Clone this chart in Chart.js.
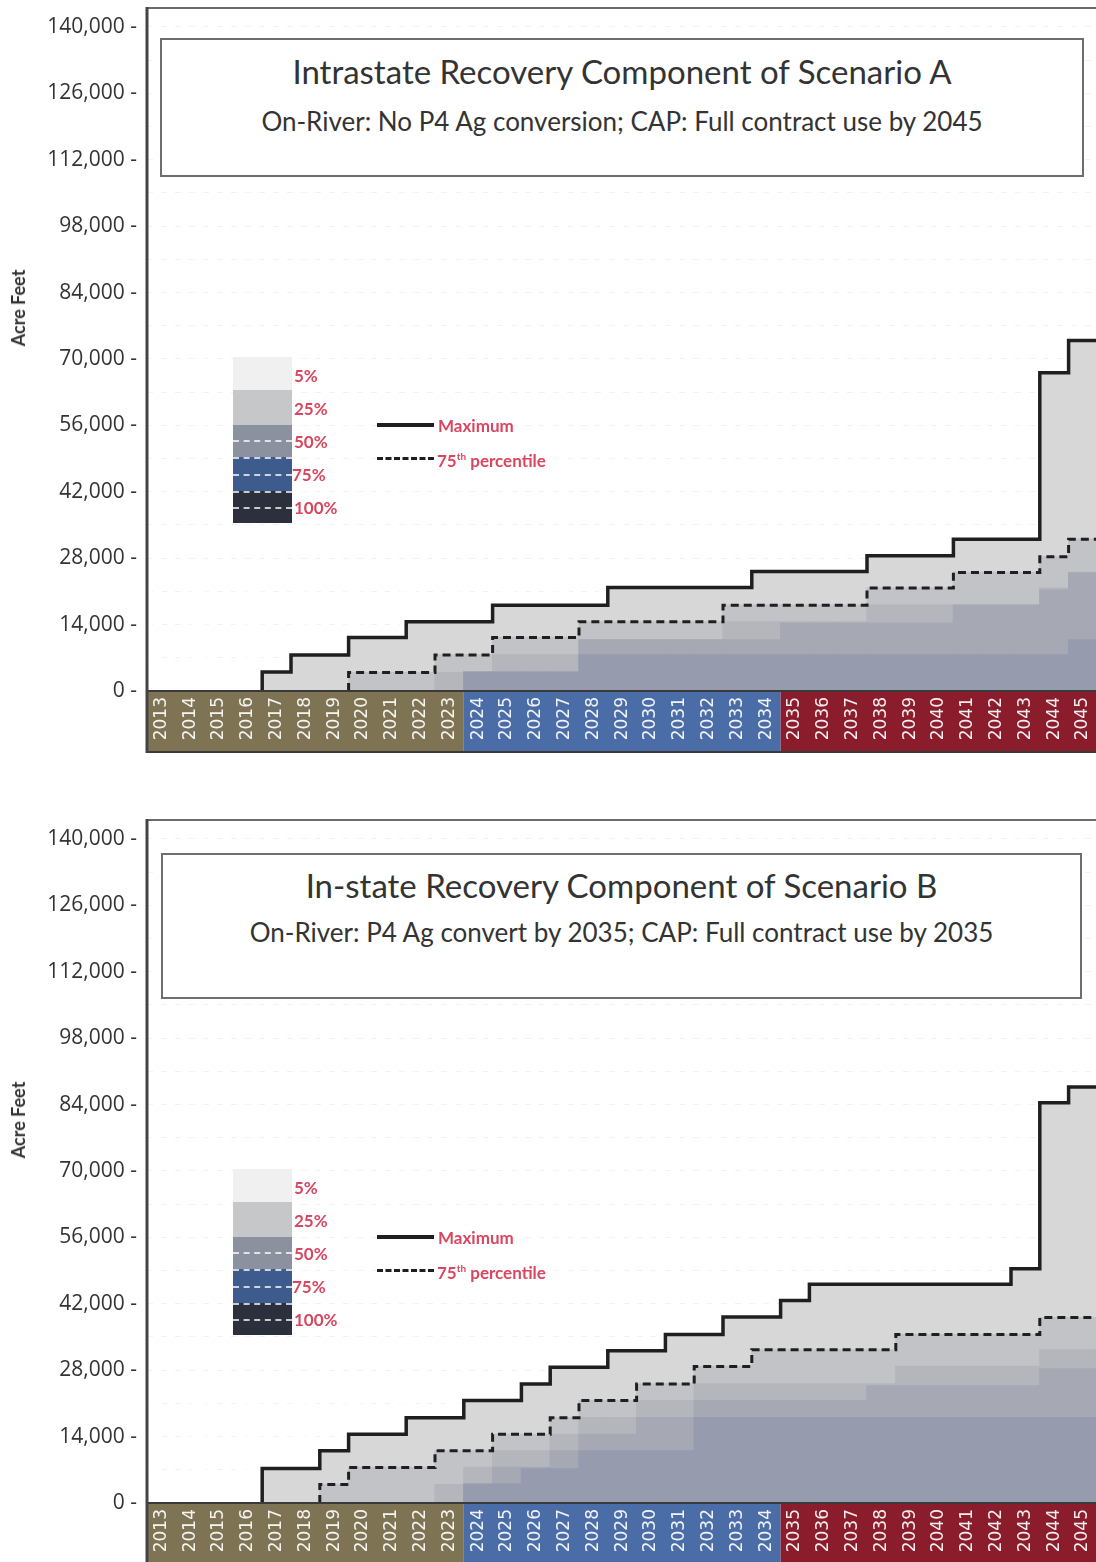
<!DOCTYPE html>
<html>
<head>
<meta charset="utf-8">
<script src="https://cdn.jsdelivr.net/npm/chart.js@4.4.1/dist/chart.umd.min.js"></script>
<style>
  html, body { margin: 0; padding: 0; background: #fff; overflow: hidden; width: 1096px; height: 1562px; }
  .panel { position: absolute; left: 0; width: 1100px; height: 760px; }
  .panel canvas { position: absolute; left: 0; top: 0; }
  .titlebox { position: absolute; box-sizing: border-box; border: 2px solid #6e6e6e; background: #fff;
              font-family: Lato, "Open Sans", sans-serif; color: #333; text-align: center; }
  .titlebox .t1, .titlebox .t2 { position: absolute; left: 0; right: 0; white-space: nowrap; line-height: 1; }
  .yname { position: absolute; font-family: Lato, sans-serif; font-weight: bold; font-size: 18px; color: #333;
           transform: translate(-50%, -50%) rotate(-90deg); white-space: nowrap; }
  .swatch { position: absolute; left: 233px; width: 59px; }
  .swatch div { position: absolute; left: 0; width: 59px; }
  .swatch .dash { height: 0; border-top: 2px dashed rgba(255,255,255,0.75); }
  .lg { position: absolute; font-family: Lato, sans-serif; font-weight: bold; font-size: 17px; color: #d8465f;
        transform: translateY(-50%); white-space: nowrap; line-height: 1; }
  .lg sup { font-size: 10px; vertical-align: 7px; }
  .lline { position: absolute; left: 377px; width: 57px; }
</style>
</head>
<body>

<div class="panel" id="panelA" style="top:0px">
  <canvas id="chartA" width="1100" height="760"></canvas>
</div>
<div class="panel" id="panelB" style="top:812px">
  <canvas id="chartB" width="1100" height="760"></canvas>
</div>

<script>
// ---- categories and axis ticks ----
const years = ['2013','2014','2015','2016','2017','2018','2019','2020','2021','2022','2023',
               '2024','2025','2026','2027','2028','2029','2030','2031','2032','2033','2034',
               '2035','2036','2037','2038','2039','2040','2041','2042','2043','2044','2045'];
const yTickValues = [0,7000,14000,21000,28000,35000,42000,49000,56000,63000,70000,
                     77000,84000,91000,98000,105000,112000,119000,126000,133000,140000];
const yLabelEvery = 14000;
const yAxisMax = 144000;
const eraStarts = ['2013','2024','2035'];
const eraColors = ['#7e7454','#4b6da7','#8a1c2b'];

// ---- Scenario A (acre-feet) ----
const titleA = 'Intrastate Recovery Component of Scenario A';
const subtitleA = 'On-River: No P4 Ag conversion; CAP: Full contract use by 2045';
const maxA = [0,0,0,0,4000,7600,7600,11300,11300,14600,14600,14600,18100,18100,18100,18100,
              21800,21800,21800,21800,21800,25200,25200,25200,25200,28500,28500,28500,
              32000,32000,32000,67100,73900];
const p75A = [0,0,0,0,0,0,0,3900,3900,3900,7600,7600,11300,11300,11300,14600,14600,14600,
              14600,14600,18100,18100,18100,18100,18100,21700,21700,21700,25000,25000,25000,
              28300,32000];
// shading band tops below the 75th percentile
const bandCA = [0,0,0,0,0,0,0,0,0,0,3900,4000,7600,7600,7600,10800,10800,10800,10800,10800,
                14600,14600,14600,14600,14600,18100,18100,18100,18100,18100,18100,21700,25000];
const bandBA = [0,0,0,0,0,0,0,0,0,0,0,4000,4000,4000,4000,10800,10800,10800,10800,10800,
                10800,10800,14300,14300,14300,14300,14300,14300,18100,18100,18100,21300,24900];
const bandAA = [0,0,0,0,0,0,0,0,0,0,0,4000,4000,4000,4000,7600,7600,7600,7600,7600,
                7600,7600,7600,7600,7600,7600,7600,7600,7600,7600,7600,7600,10800];

// ---- Scenario B (acre-feet) ----
const titleB = 'In-state Recovery Component of Scenario B';
const subtitleB = 'On-River: P4 Ag convert by 2035; CAP: Full contract use by 2035';
const maxB = [0,0,0,0,7300,7300,11000,14500,14500,18000,18000,21600,21600,25100,28600,28600,
              32100,32100,35500,35500,39200,39200,42700,46100,46100,46100,46100,46100,46100,
              46100,49400,84400,87700];
const p75B = [0,0,0,0,0,0,3900,7500,7500,7500,11000,11000,14500,14500,18000,21600,21600,
              25100,25100,28800,28800,32300,32300,32300,32300,32300,35500,35500,35500,35500,
              35500,39100,39100];
const bandCB = [0,0,0,0,0,0,0,0,0,0,3900,7500,11000,11000,14500,18000,18000,21600,21600,
                25100,25100,25100,25100,25100,25100,25100,28800,28800,28800,28800,28800,32300,32300];
const bandBB = [0,0,0,0,0,0,0,0,0,0,0,4000,7500,7500,11000,14500,14500,18000,18000,21600,
                21600,21600,21600,21600,21600,24700,24700,24700,24700,24700,24700,28300,28300];
const bandAB = [0,0,0,0,0,0,0,0,0,0,0,4000,4000,7200,7200,11000,11000,11000,11000,18000,
                18000,18000,18000,18000,18000,18000,18000,18000,18000,18000,18000,18000,18000];

const shadeColors = ['#d7d7d8', '#c2c3c6', '#b4b6bc', '#a6a9b3', '#969bad']; // max, p75, C, B, A
const bandHeight = 61;

// bars from 0 up to a level, one per year column
function columns(vals) {
  return vals.map((v, i) => ({ x: i + 0.5, y: v > 0 ? v : null }));
}
// horizontal run across each year column, joined by vertical risers;
// the line begins with a riser from 0 at the first non-zero year
function steps(vals) {
  const pts = [];
  const first = vals.findIndex(v => v > 0);
  if (first < 0) return pts;
  pts.push({ x: first, y: 0 });
  for (let i = first; i < vals.length; i++) {
    pts.push({ x: i, y: vals[i] });
    pts.push({ x: i + 1, y: vals[i] });
  }
  return pts;
}
function fmt(v) { return v.toLocaleString('en-US'); }
function noPad(s) { s.paddingTop = 0; s.paddingBottom = 0; s.paddingLeft = 0; s.paddingRight = 0; }

const frameBand = {
  id: 'frameBand',
  beforeDraw(chart) {
    const { ctx, chartArea: { bottom }, scales: { x } } = chart;
    eraStarts.forEach((y0, k) => {
      const i0 = years.indexOf(y0);
      const i1 = k + 1 < eraStarts.length ? years.indexOf(eraStarts[k + 1]) : years.length;
      const px0 = x.getPixelForValue(i0), px1 = x.getPixelForValue(i1);
      ctx.fillStyle = eraColors[k];
      ctx.fillRect(px0, bottom, px1 - px0 + (k === eraStarts.length - 1 ? 4 : 0), bandHeight);
    });
  },
  afterDraw(chart) {
    const { ctx, chartArea: { left, top, right, bottom } } = chart;
    ctx.save();
    ctx.strokeStyle = '#3a3a3a';
    ctx.lineWidth = 2;
    ctx.beginPath(); ctx.moveTo(left, bottom); ctx.lineTo(right + 4, bottom); ctx.stroke();
    ctx.beginPath(); ctx.moveTo(left, bottom + bandHeight); ctx.lineTo(right + 4, bottom + bandHeight); ctx.stroke();
    ctx.strokeStyle = '#6a6a6a';
    ctx.beginPath(); ctx.moveTo(left, top); ctx.lineTo(right + 4, top); ctx.stroke();
    ctx.strokeStyle = '#444';
    ctx.lineWidth = 3;
    ctx.beginPath(); ctx.moveTo(left, top - 1); ctx.lineTo(left, bottom + bandHeight + 1); ctx.stroke();
    ctx.restore();
  }
};

function makeChart(id, maxV, p75V, cV, bV, aV) {
  const tickList = () => yTickValues.map(v => ({ value: v }));
  return new Chart(document.getElementById(id), {
    data: {
      datasets: [
        { type: 'line', label: 'Maximum', data: steps(maxV), borderColor: '#1f1f1f', borderWidth: 3.5,
          pointRadius: 0, fill: false, tension: 0, order: 0 },
        { type: 'line', label: '75th percentile', data: steps(p75V), borderColor: '#1f1f1f', borderWidth: 3,
          borderDash: [8, 5], pointRadius: 0, fill: false, tension: 0, order: 0 },
        { type: 'bar', label: '100%', data: columns(aV), backgroundColor: shadeColors[4], order: 1 },
        { type: 'bar', label: '75%', data: columns(bV), backgroundColor: shadeColors[3], order: 2 },
        { type: 'bar', label: '50%', data: columns(cV), backgroundColor: shadeColors[2], order: 3 },
        { type: 'bar', label: '25%', data: columns(p75V), backgroundColor: shadeColors[1], order: 4 },
        { type: 'bar', label: '5%', data: columns(maxV), backgroundColor: shadeColors[0], order: 5 }
      ]
    },
    options: {
      responsive: false,
      animation: false,
      devicePixelRatio: 1,
      layout: { padding: { top: 8, right: 2.6, bottom: 8, left: 0 } },
      datasets: { bar: { grouped: false, barPercentage: 1, categoryPercentage: 1, borderWidth: 0, inflateAmount: 0.6 } },
      plugins: { legend: { display: false }, tooltip: { enabled: false } },
      scales: {
        x: {
          type: 'linear', min: 0, max: years.length, position: 'bottom', offset: false,
          afterBuildTicks: s => { s.ticks = years.map((_, i) => ({ value: i + 0.5 })); },
          afterFit: s => { s.height = bandHeight; noPad(s); },
          grid: { display: false, drawTicks: false, offset: false },
          border: { display: false },
          ticks: { autoSkip: false, minRotation: 90, maxRotation: 90, padding: 6, color: 'rgba(255,255,255,0.92)',
                   font: { family: 'DejaVu Sans', size: 17 },
                   callback: (v, i) => years[i] }
        },
        y: {
          type: 'linear', min: 0, max: yAxisMax, position: 'left',
          afterBuildTicks: s => { s.ticks = tickList(); },
          afterFit: s => { s.width = 147; noPad(s); },
          grid: { color: '#f1f1f1', drawTicks: false, lineWidth: 1 },
          border: { display: false, dash: [6, 8] },
          ticks: { autoSkip: false, padding: 10, color: '#333',
                   font: { family: 'Open Sans', size: 21 },
                   callback: v => (v % yLabelEvery === 0 ? fmt(v) + ' -' : '') }
        },
        yGrid: {
          type: 'linear', min: 0, max: yAxisMax, position: 'left', z: 1,
          afterBuildTicks: s => { s.ticks = tickList().filter(t => t.value > 0); },
          afterFit: s => { s.width = 0; noPad(s); },
          grid: { drawTicks: false, lineWidth: 1.5,
                  color: c => (c.tick && c.tick.value <= 21000 ? 'rgba(255,255,255,0.7)' : 'rgba(255,255,255,0.25)') },
          border: { display: false, dash: [5, 6] },
          ticks: { display: false }
        }
      }
    },
    plugins: [frameBand]
  });
}

makeChart('chartA', maxA, p75A, bandCA, bandBA, bandAA);
makeChart('chartB', maxB, p75B, bandCB, bandBB, bandAB);

// ---- titles, axis names and key, laid over each panel ----
function overlay(panelId, title, subtitle, box) {
  const panel = document.getElementById(panelId);
  const tb = document.createElement('div');
  tb.className = 'titlebox';
  Object.assign(tb.style, { left: box.l + 'px', top: box.t + 'px', width: box.w + 'px', height: box.h + 'px' });
  tb.innerHTML = '<div class="t1" style="top:' + box.t1 + 'px;font-size:' + box.f1 + 'px">' + title + '</div>' +
                 '<div class="t2" style="top:' + box.t2 + 'px;font-size:' + box.f2 + 'px">' + subtitle + '</div>';
  panel.appendChild(tb);

  const yn = document.createElement('div');
  yn.className = 'yname';
  yn.style.left = '18px'; yn.style.top = '308px';
  yn.textContent = 'Acre Feet';
  panel.appendChild(yn);

  const sw = document.createElement('div');
  sw.className = 'swatch';
  sw.style.top = '357px';
  sw.innerHTML =
    '<div style="top:0;height:33px;background:#f0f0f0"></div>' +
    '<div style="top:33px;height:35px;background:#c6c7c9"></div>' +
    '<div style="top:68px;height:32px;background:#8c91a0"></div>' +
    '<div style="top:100px;height:34px;background:#3e5b8d"></div>' +
    '<div style="top:134px;height:32px;background:#2b303c"></div>' +
    '<div class="dash" style="top:83px"></div>' +
    '<div class="dash" style="top:100px"></div>' +
    '<div class="dash" style="top:117px"></div>' +
    '<div class="dash" style="top:134px"></div>' +
    '<div class="dash" style="top:150px"></div>';
  panel.appendChild(sw);

  const labels = [['5%', 294, 375], ['25%', 294, 408], ['50%', 294, 441], ['75%', 292, 474], ['100%', 294, 507]];
  labels.forEach(([txt, x, y]) => {
    const d = document.createElement('div');
    d.className = 'lg'; d.style.left = x + 'px'; d.style.top = y + 'px'; d.textContent = txt;
    panel.appendChild(d);
  });

  const l1 = document.createElement('div');
  l1.className = 'lline'; l1.style.top = '423px'; l1.style.height = '4px'; l1.style.background = '#1f1f1f';
  panel.appendChild(l1);
  const l2 = document.createElement('div');
  l2.className = 'lline'; l2.style.top = '457px'; l2.style.height = '0'; l2.style.borderTop = '3px dashed #1f1f1f';
  panel.appendChild(l2);

  const m = document.createElement('div');
  m.className = 'lg'; m.style.left = '438px'; m.style.top = '425px'; m.textContent = 'Maximum';
  panel.appendChild(m);
  const p = document.createElement('div');
  p.className = 'lg'; p.style.left = '437px'; p.style.top = '460px'; p.innerHTML = '75<sup>th</sup> percentile';
  panel.appendChild(p);
}

overlay('panelA', titleA, subtitleA, { l: 160, t: 38, w: 924, h: 139, t1: 15, f1: 33, t2: 68, f2: 26 });
overlay('panelB', titleB, subtitleB, { l: 161, t: 41, w: 921, h: 146, t1: 14, f1: 33, t2: 64, f2: 26 });
</script>
</body>
</html>
